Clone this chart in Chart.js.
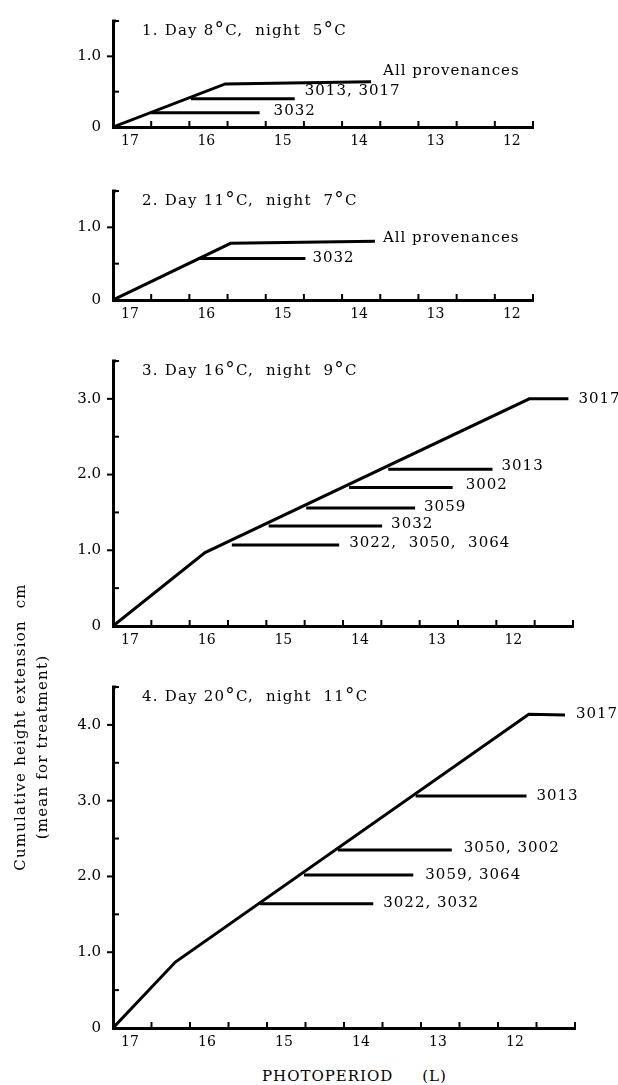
<!DOCTYPE html>
<html>
<head>
<meta charset="utf-8">
<script src="https://cdn.jsdelivr.net/npm/chart.js@4.4.1/dist/chart.umd.min.js"></script>
<style>
  body { margin: 0; background: #fff; }
  #wrap { position: relative; width: 618px; height: 1085px; overflow: hidden; background: #fff; }
  #wrap canvas { position: absolute; left: 0; }
  .axis-title { position: absolute; font-family: 'DejaVu Serif', serif; font-size: 15px; color: #000; white-space: pre; letter-spacing: 1.2px; line-height: 1; }
  .rot { transform: translate(-50%, -50%) rotate(-90deg); }
</style>
</head>
<body>
<div id="wrap">
  <canvas id="panel1" width="618" height="157" style="top:0px"></canvas>
  <canvas id="panel2" width="618" height="160" style="top:170px"></canvas>
  <canvas id="panel3" width="618" height="316" style="top:340px"></canvas>
  <canvas id="panel4" width="618" height="392" style="top:666px"></canvas>
  <div class="axis-title rot" style="left:20px; top:727px">Cumulative height extension  cm</div>
  <div class="axis-title rot" style="left:42px; top:747px">(mean for treatment)</div>
  <div class="axis-title" style="left:262px; top:1069px; letter-spacing:1px">PHOTOPERIOD     (L)</div>
</div>
<script>
// 1. Day 8°C, night 5°C
const p1Title = '1. Day 8°C,  night  5°C';
const p1LineName = 'All provenances';
const p1LineX = [17, 15.53, 13.62];
const p1LineY = [0, 0.61, 0.64];
const p1StopNames = ['3013, 3017', '3032'];
const p1StopFromX = [15.98, 16.51];
const p1StopToX = [14.62, 15.08];
const p1StopY = [0.40, 0.20];

// 2. Day 11°C, night 7°C
const p2Title = '2. Day 11°C,  night  7°C';
const p2LineName = 'All provenances';
const p2LineX = [17, 15.46, 13.57];
const p2LineY = [0, 0.78, 0.81];
const p2StopNames = ['3032'];
const p2StopFromX = [15.88];
const p2StopToX = [14.48];
const p2StopY = [0.57];

// 3. Day 16°C, night 9°C
const p3Title = '3. Day 16°C,  night  9°C';
const p3LineName = '3017';
const p3LineX = [17, 15.8, 11.57, 11.06];
const p3LineY = [0, 0.97, 3.0, 3.0];
const p3StopNames = ['3013', '3002', '3059', '3032', '3022,  3050,  3064'];
const p3StopFromX = [13.41, 13.92, 14.48, 14.97, 15.45];
const p3StopToX = [12.05, 12.57, 13.06, 13.49, 14.05];
const p3StopY = [2.07, 1.83, 1.56, 1.32, 1.07];

// 4. Day 20°C, night 11°C
const p4Title = '4. Day 20°C,  night  11°C';
const p4LineName = '3017';
const p4LineX = [17, 16.19, 11.6, 11.13];
const p4LineY = [0, 0.87, 4.14, 4.13];
const p4StopNames = ['3013', '3050, 3002', '3059, 3064', '3022, 3032'];
const p4StopFromX = [13.07, 14.08, 14.52, 15.09];
const p4StopToX = [11.63, 12.6, 13.1, 13.62];
const p4StopY = [3.06, 2.35, 2.02, 1.64];

// photoperiod axis labels (hours of light)
const xTickLabels = [17, 16, 15, 14, 13, 12];

Chart.defaults.font.family = "'DejaVu Serif', serif";
Chart.defaults.font.size = 14;
Chart.defaults.color = '#000';

// short tick marks: x ticks point up into the plot, y half-steps inward, whole steps outward
const tickMarks = {
  id: 'tickMarks',
  afterDraw(chart) {
    const { ctx, chartArea, scales: { x, y } } = chart;
    ctx.save();
    ctx.strokeStyle = '#000';
    ctx.lineWidth = 2;
    x.ticks.forEach((t, i) => {
      const px = x.getPixelForTick(i);
      ctx.beginPath();
      ctx.moveTo(px, chartArea.bottom);
      ctx.lineTo(px, chartArea.bottom - 6);
      ctx.stroke();
    });
    y.ticks.forEach((t, i) => {
      if (t.value === 0) return;
      const py = y.getPixelForTick(i);
      const whole = Number.isInteger(t.value);
      ctx.beginPath();
      ctx.moveTo(chartArea.left, py);
      ctx.lineTo(chartArea.left + (whole ? -6 : 6), py);
      ctx.stroke();
    });
    // little stub on top of the y axis
    ctx.lineWidth = 3;
    ctx.beginPath();
    ctx.moveTo(chartArea.left - 1, chartArea.top);
    ctx.lineTo(chartArea.left + 3, chartArea.top);
    ctx.stroke();
    ctx.restore();
  }
};

const panelTitle = {
  id: 'panelTitle',
  afterDraw(chart, args, opts) {
    const { ctx, chartArea } = chart;
    let x = chartArea.left + 29;
    const y = chartArea.top + 10;
    ctx.save();
    ctx.fillStyle = '#000';
    ctx.textBaseline = 'middle';
    ctx.letterSpacing = '1.2px';
    opts.text.split(/(°)/).forEach(part => {
      if (!part) return;
      if (part === '°') {
        ctx.font = "19px 'DejaVu Serif'";
        ctx.fillText(part, x, y - 1);
      } else {
        ctx.font = "15px 'DejaVu Serif'";
        ctx.fillText(part, x, y);
      }
      x += ctx.measureText(part).width;
    });
    ctx.restore();
  }
};

// provenance names written just past the end of each line
const endLabels = {
  id: 'endLabels',
  afterDatasetsDraw(chart, args, opts) {
    const { ctx } = chart;
    ctx.save();
    ctx.font = "15px 'DejaVu Serif'";
    ctx.letterSpacing = '1px';
    ctx.fillStyle = '#000';
    ctx.textBaseline = 'middle';
    chart.data.datasets.forEach((ds, i) => {
      const pts = chart.getDatasetMeta(i).data;
      const last = pts[pts.length - 1];
      const [dx, dy] = (opts.nudge || {})[ds.label] || [10, -2];
      ctx.fillText(ds.label, last.x + dx, last.y + dy);
    });
    ctx.restore();
  }
};

function lineSet(name, xs, ys) {
  return {
    label: name,
    data: xs.map((x, i) => ({ x: x, y: ys[i] })),
    showLine: true,
    borderColor: '#000',
    borderWidth: 3,
    pointRadius: 0,
    fill: false
  };
}

function makePanel(id, p) {
  const datasets = [lineSet(p.lineName, p.lineX, p.lineY)];
  p.stopNames.forEach((name, i) => {
    datasets.push(lineSet(name, [p.fromX[i], p.toX[i]], [p.stopY[i], p.stopY[i]]));
  });

  new Chart(document.getElementById(id), {
    type: 'scatter',
    data: { datasets: datasets },
    options: {
      responsive: false,
      animation: false,
      layout: { padding: { top: p.padTop, right: p.padRight, bottom: 0, left: 0 } },
      plugins: {
        legend: { display: false },
        tooltip: { enabled: false },
        panelTitle: { text: p.title },
        endLabels: { nudge: p.nudge }
      },
      scales: {
        x: {
          type: 'linear',
          reverse: true,
          min: p.xMin,
          max: 17,
          afterFit: s => { s.height = 30; },
          grid: { display: false, drawTicks: false },
          border: { display: true, color: '#000', width: 3 },
          ticks: {
            stepSize: 0.5,
            autoSkip: false,
            maxRotation: 0,
            padding: 6,
            labelOffset: 17,
            font: { size: 14 },
            callback: v => xTickLabels.includes(v) ? String(v) : ''
          }
        },
        y: {
          min: 0,
          max: p.yMax,
          afterFit: s => { s.width = 113; },
          grid: { display: false, drawTicks: false },
          border: { display: true, color: '#000', width: 3 },
          ticks: {
            stepSize: 0.5,
            padding: 12,
            font: { size: 15 },
            callback: v => v === 0 ? '0' : (Number.isInteger(v) ? v.toFixed(1) : '')
          }
        }
      }
    },
    plugins: [tickMarks, panelTitle, endLabels]
  });
}

makePanel('panel1', {
  title: p1Title, lineName: p1LineName, lineX: p1LineX, lineY: p1LineY,
  stopNames: p1StopNames, fromX: p1StopFromX, toX: p1StopToX, stopY: p1StopY,
  xMin: 11.5, yMax: 1.5, padTop: 14, padRight: 85,
  nudge: { 'All provenances': [12, -11], '3013, 3017': [10, -8], '3032': [14, -2] }
});

makePanel('panel2', {
  title: p2Title, lineName: p2LineName, lineX: p2LineX, lineY: p2LineY,
  stopNames: p2StopNames, fromX: p2StopFromX, toX: p2StopToX, stopY: p2StopY,
  xMin: 11.5, yMax: 1.5, padTop: 17, padRight: 85,
  nudge: { 'All provenances': [8, -3], '3032': [7, 0] }
});

makePanel('panel3', {
  title: p3Title, lineName: p3LineName, lineX: p3LineX, lineY: p3LineY,
  stopNames: p3StopNames, fromX: p3StopFromX, toX: p3StopToX, stopY: p3StopY,
  xMin: 11, yMax: 3.5, padTop: 20, padRight: 45,
  nudge: { '3017': [10, 0], '3013': [9, -3], '3002': [13, -2], '3059': [9, -1], '3032': [9, -2] }
});

makePanel('panel4', {
  title: p4Title, lineName: p4LineName, lineX: p4LineX, lineY: p4LineY,
  stopNames: p4StopNames, fromX: p4StopFromX, toX: p4StopToX, stopY: p4StopY,
  xMin: 11, yMax: 4.5, padTop: 19, padRight: 43,
  nudge: { '3017': [11, -1], '3013': [10, 0], '3050, 3002': [12, -2], '3059, 3064': [12, 0], '3022, 3032': [10, -1] }
});
</script>
</body>
</html>
